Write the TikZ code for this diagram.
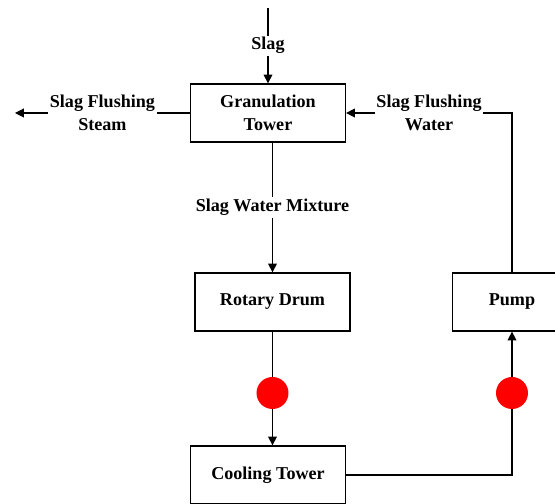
\documentclass[tikz,border=0pt]{standalone}
\usepackage{fontspec}
\setmainfont{Liberation Serif}
\usetikzlibrary{arrows.meta,positioning}

\tikzset{
  unit/.style={draw, line width=0.7pt, minimum width=3.1cm, minimum height=1.16cm, align=center},
  flow/.style={line width=0.6pt, -{Triangle[length=5pt,width=5pt]}},
  pipe/.style={line width=0.6pt},
  lbl/.style={fill=white, align=center, inner sep=1pt},
  valve/.style={circle, fill=red, minimum size=0.64cm, inner sep=0pt}
}

\begin{document}
\begin{tikzpicture}[font=\fontsize{10.3}{13}\selectfont\bfseries]
    \useasboundingbox (0,0) rectangle (11.1,10.08);
    % units
    \node[unit] (gran) at (5.36,7.82) {Granulation\\Tower};
    \node[unit] (rot) at (5.45,4.04) {Rotary Drum};
    \node[unit, minimum width=2.38cm] (pump) at (10.24,4.04) {Pump};
    \node[unit] (cool) at (5.36,0.58) {Cooling Tower};
    \coordinate (slagin) at (5.36,9.92);
    \coordinate (steamout) at (0.3,7.82);
    \coordinate (corner) at (pump.north |- gran.east);
    \node[valve] (v1) at (5.45,2.22) {};
    \node[valve] (v2) at (10.24,2.22) {};
    % flows
    \draw[flow] (slagin) -- node[lbl] {Slag} (gran.north);
    \draw[flow] (gran.west) -- node[lbl] {Slag Flushing\\Steam} (steamout);
    \draw[flow] (pump.north) -- (corner) -- node[lbl] {Slag Flushing\\Water} (gran.east);
    \draw[flow] (rot.north |- gran.south) -- node[lbl] {Slag Water Mixture} (rot.north);
    \draw[pipe] (rot.south) -- (v1);
    \draw[flow] (v1) -- (v1 |- cool.north);
    \draw[pipe] (cool.east) -| (v2);
    \draw[flow] (v2) -- (pump.south);
\end{tikzpicture}
\end{document}
